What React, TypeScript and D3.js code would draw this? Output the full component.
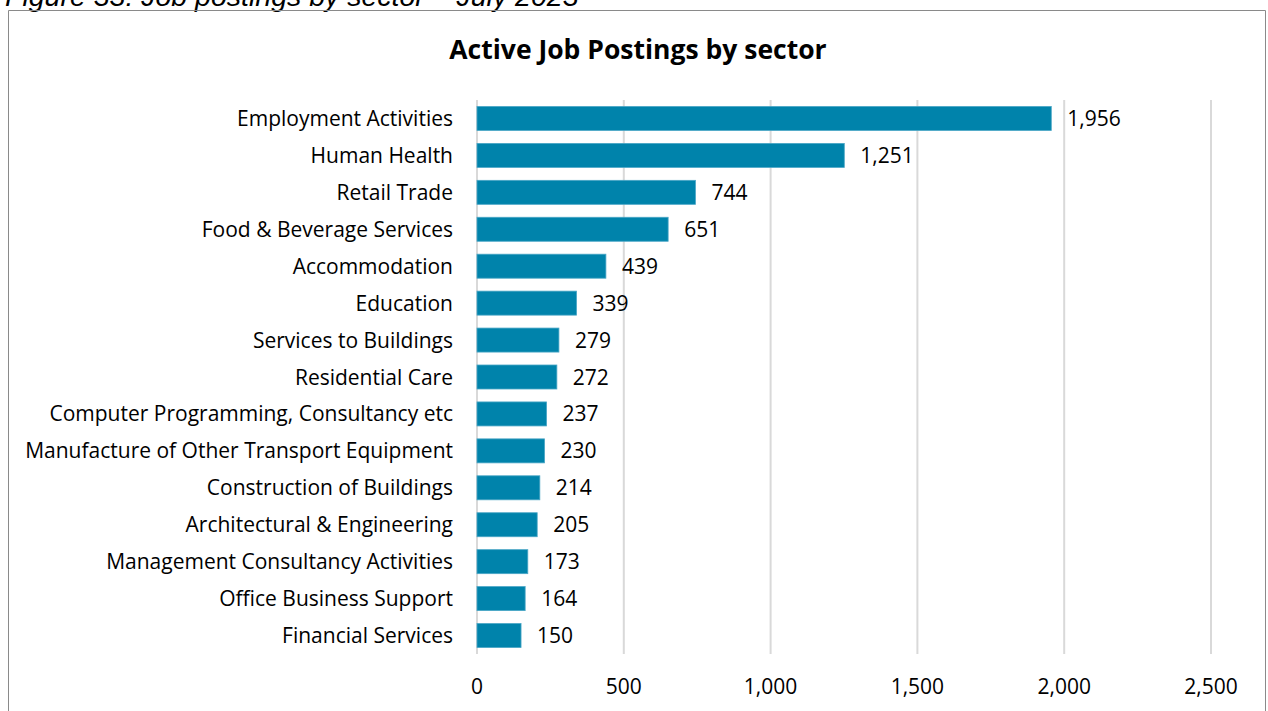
import { useEffect, useRef } from "react";
import * as d3 from "d3";

const sectors = [
  "Employment Activities",
  "Human Health",
  "Retail Trade",
  "Food & Beverage Services",
  "Accommodation",
  "Education",
  "Services to Buildings",
  "Residential Care",
  "Computer Programming, Consultancy etc",
  "Manufacture of Other Transport Equipment",
  "Construction of Buildings",
  "Architectural & Engineering",
  "Management Consultancy Activities",
  "Office Business Support",
  "Financial Services",
];

const postings = [1956, 1251, 744, 651, 439, 339, 279, 272, 237, 230, 214, 205, 173, 164, 150];

const xTicks = [0, 500, 1000, 1500, 2000, 2500];

const chartTitle = "Active Job Postings by sector";
const figureCaption = "Figure 33: Job postings by sector – July 2023";

const WIDTH = 1268;
const HEIGHT = 711;
const FONT = "'Open Sans', 'Noto Sans', sans-serif";

export default function App() {
  const svgRef = useRef<SVGSVGElement | null>(null);

  useEffect(() => {
    if (!svgRef.current) return;
    const svg = d3.select(svgRef.current);
    svg.selectAll("*").remove();

    const x = d3.scaleLinear().domain([0, 2500]).range([477, 1211]);
    const y = d3.scaleBand<string>().domain(sectors).range([100, 654]).paddingInner(0.35).paddingOuter(0.175);

    svg.append("rect").attr("width", WIDTH).attr("height", HEIGHT).attr("fill", "#fff");

    // caption, cut off by the top edge as in the source
    svg
      .append("text")
      .attr("x", 5)
      .attr("y", 6)
      .attr("font-family", "'Liberation Sans', Arial, sans-serif")
      .attr("font-style", "italic")
      .attr("font-size", 28.5)
      .attr("fill", "#000")
      .text(figureCaption);

    // chart frame
    svg
      .append("path")
      .attr("d", `M8.5,${HEIGHT + 2} V10.5 H1265.5 V${HEIGHT + 2}`)
      .attr("fill", "none")
      .attr("stroke", "#8a8a8a")
      .attr("stroke-width", 1);

    svg
      .append("text")
      .attr("x", 638)
      .attr("y", 59)
      .attr("text-anchor", "middle")
      .attr("font-family", FONT)
      .attr("font-weight", "bold")
      .attr("font-size", 26.5)
      .attr("fill", "#000")
      .text(chartTitle);

    // gridlines
    svg
      .append("g")
      .selectAll("line")
      .data(xTicks)
      .join("line")
      .attr("x1", (d) => x(d))
      .attr("x2", (d) => x(d))
      .attr("y1", 100)
      .attr("y2", 654)
      .attr("stroke", "#d9d9d9")
      .attr("stroke-width", 2);

    // bars
    svg
      .append("g")
      .selectAll("rect")
      .data(postings)
      .join("rect")
      .attr("x", x(0))
      .attr("y", (_d, i) => y(sectors[i])!)
      .attr("width", (d) => x(d) - x(0))
      .attr("height", y.bandwidth())
      .attr("fill", "#0083ab")
      .attr("stroke", "#4aa6c6")
      .attr("stroke-width", 0.8);

    // value labels
    svg
      .append("g")
      .selectAll("text")
      .data(postings)
      .join("text")
      .attr("x", (d) => x(d) + 16)
      .attr("y", (_d, i) => y(sectors[i])! + y.bandwidth() / 2)
      .attr("dy", "0.36em")
      .attr("font-family", FONT)
      .attr("font-size", 21)
      .attr("fill", "#000")
      .text((d) => d3.format(",")(d));

    // category labels
    svg
      .append("g")
      .selectAll("text")
      .data(sectors)
      .join("text")
      .attr("x", 453)
      .attr("y", (d) => y(d)! + y.bandwidth() / 2)
      .attr("dy", "0.36em")
      .attr("text-anchor", "end")
      .attr("font-family", FONT)
      .attr("font-size", 21)
      .attr("fill", "#000")
      .text((d) => d);

    // x tick labels
    svg
      .append("g")
      .selectAll("text")
      .data(xTicks)
      .join("text")
      .attr("x", (d) => x(d))
      .attr("y", 686)
      .attr("dy", "0.36em")
      .attr("text-anchor", "middle")
      .attr("font-family", FONT)
      .attr("font-size", 21)
      .attr("fill", "#000")
      .text((d) => d3.format(",")(d));
  }, []);

  return (
    <svg
      ref={svgRef}
      width={WIDTH}
      height={HEIGHT}
      style={{ position: "absolute", left: 0, top: 0, display: "block" }}
    />
  );
}
